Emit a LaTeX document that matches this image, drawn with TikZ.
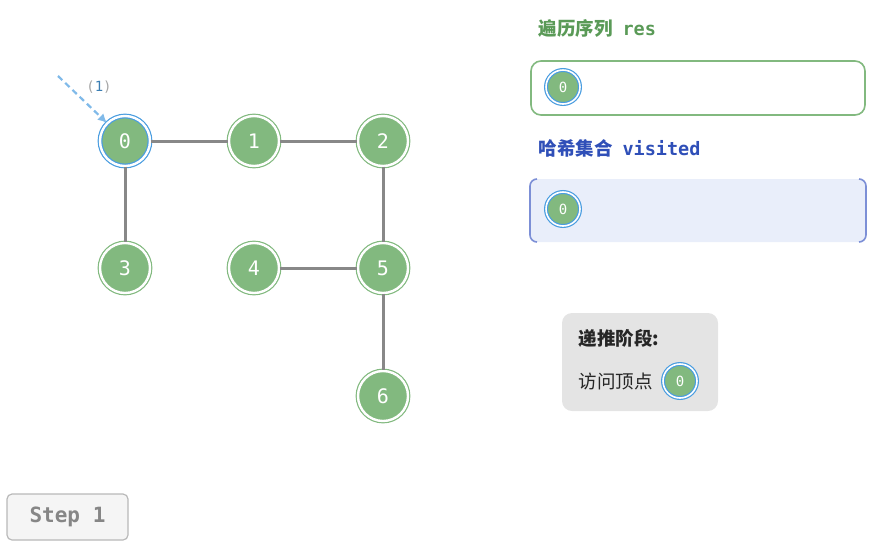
\documentclass[tikz,border=0pt]{standalone}
\usepackage{fontspec}
\setmainfont{Noto Sans CJK SC}
\newfontfamily\monof{DejaVu Sans Mono}
\usetikzlibrary{arrows.meta}
\definecolor{gnode}{HTML}{82B97F}
\definecolor{bring}{HTML}{4A9DE0}
\definecolor{edgec}{HTML}{888888}
\definecolor{resgreen}{HTML}{5A9A57}
\definecolor{visblue}{HTML}{2F4FB8}
\definecolor{visfill}{HTML}{E9EEFA}
\definecolor{visline}{HTML}{7C8FD6}
\definecolor{legfill}{HTML}{E4E4E4}
\begin{document}
\begin{tikzpicture}[x=1pt,y=-1pt,
  gv/.style={circle,minimum size=50pt,inner sep=0pt,fill=gnode,draw=gnode,double=white,double distance=2.4pt,line width=1.2pt,text=white,font=\monof\fontsize{20}{20}\selectfont},
  gvb/.style={gv,draw=bring},
  sv/.style={circle,minimum size=34pt,inner sep=0pt,fill=gnode,draw=bring,double=white,double distance=1.6pt,line width=1.2pt,text=white,font=\monof\fontsize{14}{14}\selectfont},
  edge/.style={draw=edgec,line width=3pt}]
\useasboundingbox (0,0) rectangle (872,547);
% graph nodes
\node[gvb] (n0) at (125,141) {0};
\node[gv] (n1) at (254,141) {1};
\node[gv] (n2) at (383,141) {2};
\node[gv] (n3) at (125,268) {3};
\node[gv] (n4) at (254,268) {4};
\node[gv] (n5) at (383,268) {5};
\node[gv] (n6) at (383,396) {6};
\draw[edge] (n0) -- (n1);
\draw[edge] (n1) -- (n2);
\draw[edge] (n0) -- (n3);
\draw[edge] (n2) -- (n5);
\draw[edge] (n4) -- (n5);
\draw[edge] (n5) -- (n6);
% pointer
\coordinate (ps) at (58,76);
\draw[bring!70,line width=2.2pt,dash pattern=on 6pt off 4pt,-{Latex[length=9pt,width=9pt]}] (ps) -- (n0.north west);
\node[font=\monof\fontsize{14}{14}\selectfont] (plab) at (99,87) {\textcolor{gray!70}{(}\textcolor{bring!80!black}{1}\textcolor{gray!70}{)}};
% res
\node[anchor=west,text=resgreen,font=\fontsize{18.5}{18.5}\selectfont\bfseries] (reshead) at (535,28) {遍历序列\hspace{10pt}{\monof\bfseries res}};
\draw[gnode,line width=1.6pt,fill=white,rounded corners=10pt] (531,61) rectangle (865,115);
\node[sv] (r0) at (563,87) {0};
% visited
\node[anchor=west,text=visblue,font=\fontsize{18.5}{18.5}\selectfont\bfseries] (vishead) at (535,148) {哈希集合\hspace{10pt}{\monof\bfseries visited}};
\fill[visfill,rounded corners=7pt] (530,179) rectangle (866,242);
\draw[visline,line width=1.6pt,rounded corners=7pt] (537,179) -- (530,179) -- (530,242) -- (537,242);
\draw[visline,line width=1.6pt,rounded corners=7pt] (859,179) -- (866,179) -- (866,242) -- (859,242);
\node[sv] (v0) at (563,209) {0};
% legend
\fill[legfill,rounded corners=10pt] (562,313) rectangle (718,411);
\node[anchor=west,font=\fontsize{18.5}{18.5}\selectfont\bfseries,text=black!85] (leg1) at (575,338) {递推阶段:};
\node[anchor=west,font=\fontsize{18.5}{18.5}\selectfont,text=black!85] (leg2) at (575,381) {访问顶点};
\node[sv] (l0) at (680,381) {0};
% step
\draw[gray!55,fill=gray!8,rounded corners=5pt,line width=1.2pt] (7,494) rectangle (128,540);
\node[font=\monof\bfseries\fontsize{21}{21}\selectfont,text=gray!95] (step) at (67.5,517) {Step 1};
\end{tikzpicture}
\end{document}
